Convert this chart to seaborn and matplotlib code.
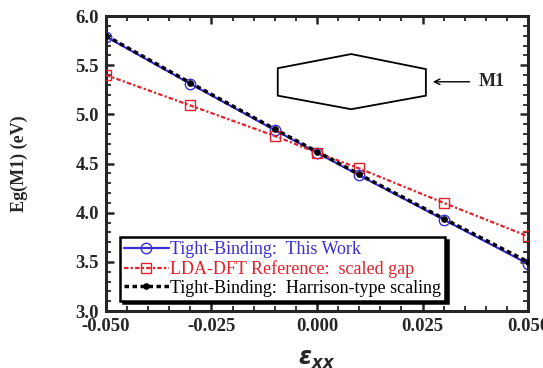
import numpy as np
import pandas as pd
import matplotlib
matplotlib.use("Agg")
import matplotlib.pyplot as plt
import seaborn as sns
from matplotlib.patches import Polygon
from matplotlib.ticker import MultipleLocator, FormatStrFormatter

# --------------------
# Data
# --------------------
strain = [-0.05, -0.03, -0.01, 0.0, 0.01, 0.03, 0.05]
eg_tb_this_work = [5.79, 5.31, 4.84, 4.61, 4.38, 3.93, 3.48]
eg_lda_scaled = [5.40, 5.09, 4.78, 4.61, 4.45, 4.10, 3.76]
eg_tb_harrison = [5.80, 5.32, 4.85, 4.62, 4.39, 3.94, 3.50]

labels = [
    "Tight-Binding:  This Work",
    "LDA-DFT Reference:  scaled gap",
    "Tight-Binding:  Harrison-type scaling",
]

df = pd.DataFrame({
    "strain": strain * 3,
    "Eg": eg_tb_this_work + eg_lda_scaled + eg_tb_harrison,
    "series": [labels[0]] * 7 + [labels[1]] * 7 + [labels[2]] * 7,
})

# --------------------
# Style
# --------------------
sns.set_style("ticks")
plt.rcParams["font.family"] = ["Liberation Serif", "DejaVu Serif"]
plt.rcParams["mathtext.fontset"] = "custom"
plt.rcParams["mathtext.bf"] = "DejaVu Sans:bold:italic"
plt.rcParams["mathtext.it"] = "DejaVu Sans:bold:italic"
plt.rcParams["mathtext.rm"] = "DejaVu Sans:bold:italic"

blue = "#3a2fd6"
red = "#e3202b"

fig = plt.figure(figsize=(5.43, 3.68), dpi=100)
ax = fig.add_axes([106 / 543, 1 - 311 / 368, 422 / 543, 295 / 368])

sns.lineplot(data=df[df["series"] == labels[0]], x="strain", y="Eg", ax=ax,
             color=blue, lw=1.6, marker="o", markersize=7.5,
             markerfacecolor="none", markeredgecolor=blue, markeredgewidth=1.0,
             label=labels[0], zorder=2)
sns.lineplot(data=df[df["series"] == labels[1]], x="strain", y="Eg", ax=ax,
             color=red, lw=1.6, marker="s", markersize=7.5,
             markerfacecolor="none", markeredgecolor=red, markeredgewidth=1.0,
             label=labels[1], zorder=3)
ax.lines[-1].set_linestyle((0, (2, 1, 1, 1)))
sns.lineplot(data=df[df["series"] == labels[2]], x="strain", y="Eg", ax=ax,
             color="black", lw=2.5, marker="o", markersize=4,
             markerfacecolor="black", markeredgecolor="black",
             label=labels[2], zorder=4)
ax.lines[-1].set_linestyle((0, (1.3, 1.0)))

ax.set_xlim(-0.05, 0.05)
ax.set_ylim(3.0, 6.0)
ax.xaxis.set_major_locator(MultipleLocator(0.025))
ax.xaxis.set_minor_locator(MultipleLocator(0.005))
ax.yaxis.set_major_locator(MultipleLocator(0.5))
ax.yaxis.set_minor_locator(MultipleLocator(0.1))
ax.xaxis.set_major_formatter(FormatStrFormatter("%.3f"))
ax.yaxis.set_major_formatter(FormatStrFormatter("%.1f"))

ax.tick_params(which="both", direction="in", top=True, right=True,
               labelsize=13.5, pad=5)
ax.tick_params(which="major", length=6, width=1.8)
ax.tick_params(which="minor", length=3.5, width=1.3)
for t in ax.get_xticklabels() + ax.get_yticklabels():
    t.set_fontweight("bold")
for s in ax.spines.values():
    s.set_linewidth(2.2)

ax.set_xlabel(r"$\mathbf{\varepsilon}_{\mathbf{xx}}$", fontsize=17, labelpad=10)
ax.set_ylabel("Eg(M1) (eV)", fontsize=13, fontweight="bold", labelpad=34)

# --------------------
# Inset sketch: hexagon + M1 arrow
# --------------------
hexagon = Polygon([(0.407, 0.823), (0.581, 0.871), (0.758, 0.820),
                   (0.758, 0.730), (0.581, 0.684), (0.407, 0.730)],
                  closed=True, fill=False, edgecolor="black", lw=1.3,
                  transform=ax.transAxes)
ax.add_patch(hexagon)
ax.annotate("", xy=(0.768, 0.777), xytext=(0.868, 0.777),
            xycoords="axes fraction", textcoords="axes fraction",
            arrowprops=dict(arrowstyle="->", color="black", lw=1.0))
ax.text(0.882, 0.777, "M1", transform=ax.transAxes, fontsize=13,
        fontweight="bold", va="center", ha="left")

# --------------------
# Legend
# --------------------
leg = ax.legend(loc="lower left", bbox_to_anchor=(0.033, 0.035),
                fontsize=13, frameon=True, fancybox=False,
                shadow={"color": "black", "alpha": 1.0},
                handlelength=2.5, handletextpad=0.05, borderpad=0.22,
                labelspacing=0.1, borderaxespad=0.0)
leg.get_frame().set_edgecolor("black")
leg.get_frame().set_linewidth(1.8)
leg.get_frame().set_alpha(1.0)
for txt, c in zip(leg.get_texts(), [blue, red, "black"]):
    txt.set_color(c)

fig.savefig("out.png", dpi=100)
